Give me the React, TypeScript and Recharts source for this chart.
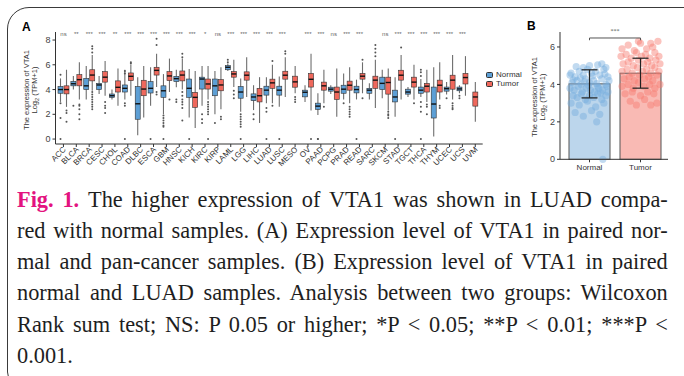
import React from "react";
import { Bar, Cell, ComposedChart, ErrorBar, Legend, ReferenceLine, XAxis, YAxis } from "recharts";

const FONT = '"Liberation Sans", Arial, sans-serif';
const SERIF = '"Liberation Serif", "Times New Roman", serif';
const BLUE = "#5d9fd5";
const RED = "#ef685c";

// Panel A: pan-cancer boxplots
const cancers = [
    "ACC", "BLCA", "BRCA", "CESC", "CHOL", "COAD", "DLBC", "ESCA", "GBM", "HNSC", "KICH",
    "KIRC", "KIRP", "LAML", "LGG", "LIHC", "LUAD", "LUSC", "MESO", "OV", "PAAD", "PCPG",
    "PRAD", "READ", "SARC", "SKCM", "STAD", "TGCT", "THCA", "THYM", "UCEC", "UCS", "UVM",
];

const significance = [
    "ns", "**", "***", "***", "**", "***", "***", "***", "***", "***", "***",
    "*", "ns", "***", "***", "***", "***", "***", "", "***", "***", "ns",
    "***", "***", "", "ns", "***", "***", "***", "***", "***", "***", "",
];

// [lower whisker, q1, median, q3, upper whisker]
const normalBox: (number[] | null)[] = [
    [3.0, 3.7, 4.0, 4.25, 4.9],
    [4.0, 4.3, 4.47, 4.66, 5.1],
    [3.2, 4.0, 4.3, 4.9, 5.9],
    [3.65, 4.0, 4.37, 4.5, 5.1],
    [3.2, 3.37, 3.5, 3.64, 4.0],
    [3.2, 3.8, 4.1, 4.37, 5.6],
    [0.3, 1.6, 2.85, 4.24, 5.0],
    [2.7, 3.72, 4.1, 4.64, 5.8],
    [2.0, 3.37, 3.9, 4.3, 5.25],
    [4.18, 4.64, 4.88, 5.07, 5.6],
    [1.75, 3.37, 4.1, 4.85, 5.66],
    [2.7, 4.04, 4.85, 5.0, 5.9],
    [2.0, 3.5, 4.3, 4.85, 5.5],
    [5.5, 5.6, 5.8, 5.93, 6.1],
    [2.2, 3.3, 3.8, 4.25, 4.9],
    [2.34, 3.1, 3.4, 3.65, 4.35],
    [2.9, 3.55, 3.95, 4.27, 5.0],
    [2.6, 3.55, 3.95, 4.27, 5.05],
    null,
    [3.0, 3.41, 3.78, 3.95, 4.35],
    [1.95, 2.4, 2.66, 2.9, 3.7],
    [3.65, 3.87, 4.03, 4.19, 4.35],
    [3.2, 3.7, 4.03, 4.35, 5.3],
    [3.2, 3.73, 4.0, 4.27, 4.8],
    [3.2, 3.7, 3.95, 4.1, 4.5],
    [3.3, 4.0, 4.5, 5.0, 5.6],
    [1.8, 3.0, 3.4, 3.95, 5.0],
    [3.4, 3.63, 3.8, 4.03, 4.2],
    [3.4, 3.7, 3.95, 4.2, 4.85],
    [0.2, 1.7, 2.83, 4.2, 5.8],
    [3.6, 3.87, 4.07, 4.2, 4.6],
    [3.7, 3.9, 4.05, 4.2, 4.35],
    null,
];

const tumorBox: number[][] = [
    [2.6, 3.65, 4.0, 4.3, 5.6],
    [3.2, 4.3, 4.8, 5.2, 6.2],
    [3.9, 4.7, 5.17, 5.6, 6.8],
    [3.5, 4.6, 5.0, 5.45, 6.3],
    [2.7, 3.8, 4.18, 4.7, 5.7],
    [3.5, 4.72, 5.07, 5.34, 6.0],
    [1.75, 3.5, 4.04, 4.75, 5.9],
    [4.2, 5.17, 5.55, 5.8, 6.9],
    [3.8, 4.72, 5.1, 5.45, 6.5],
    [4.0, 4.7, 5.17, 5.5, 6.5],
    [0.9, 2.56, 3.37, 3.77, 5.5],
    [3.2, 4.04, 4.45, 4.85, 5.9],
    [2.4, 3.9, 4.37, 4.8, 5.8],
    [4.2, 5.0, 5.26, 5.45, 6.4],
    [3.4, 4.76, 5.16, 5.43, 6.6],
    [1.3, 3.0, 3.5, 4.1, 5.0],
    [2.9, 4.1, 4.54, 4.84, 6.0],
    [3.4, 4.84, 5.16, 5.48, 6.6],
    [3.7, 4.19, 4.62, 5.08, 5.9],
    [2.3, 4.2, 4.83, 5.3, 6.9],
    [2.9, 3.95, 4.3, 4.6, 5.6],
    [1.8, 3.2, 3.8, 4.2, 5.7],
    [2.9, 3.95, 4.35, 4.68, 5.8],
    [3.7, 4.84, 5.08, 5.3, 6.2],
    [2.5, 4.1, 4.76, 5.08, 6.4],
    [2.3, 3.63, 4.57, 5.0, 5.7],
    [3.2, 4.76, 5.16, 5.56, 6.8],
    [3.2, 4.2, 4.6, 5.0, 6.0],
    [3.0, 3.8, 4.27, 4.5, 5.6],
    [3.2, 3.8, 4.35, 4.76, 6.2],
    [3.2, 4.03, 4.76, 5.16, 6.8],
    [3.5, 4.45, 4.97, 5.3, 6.7],
    [1.4, 2.66, 3.4, 3.8, 4.6],
];

const normalOutliers: number[][] = [
    [5.2, 2.9, 1.7, 0], [2.7], [], [], [], [5.5, 5.3, 2.9, 2.7, 0], [], [0],
    [1.9, 1.7, 1.5, 1.3, 1.1, 1.0, 0], [3.2, 3.0], [0], [2.0, 1.6, 1.3], [1.3],
    [6.2, 6.4], [2.0, 1.8, 1.6, 1.4, 1.2, 1.0, 0], [2.0, 1.6], [2.5, 2.2, 0], [0],
    [], [], [0, 0], [], [2.9], [0], [], [], [0], [], [5.1, 5.4, 5.6, 3.0, 2.6, 2.2, 0],
    [], [3.3], [3.5, 3.3], [],
];

const tumorOutliers: number[][] = [
    [2.3, 2.1, 1.4], [2.8, 2.7, 2.4, 2.0, 1.6], [7.0, 7.3, 7.5, 3.8, 3.6, 3.4, 3.2, 3.0, 2.8, 2.6, 2.4],
    [3.0, 2.7, 2.5, 2.1], [], [6.1, 6.2], [], [8.1, 7.6, 3.8, 3.6], [3.2],
    [6.6, 6.9, 3.8, 3.5, 3.2, 3.0, 2.8, 2.5, 1.5], [], [3.0, 2.8, 2.6, 2.4, 2.2, 2.0, 0],
    [1.8, 1.6], [3.9, 3.6, 3.3], [], [], [6.3, 2.7], [6.9, 7.1], [3.4, 3.2, 3.0], [0],
    [2.6], [], [2.6, 2.4, 2.2, 2.0, 1.8], [6.4, 3.3], [6.7, 7.0, 7.3, 7.6], [2.2, 2.0, 1.9, 1.7],
    [7.4], [2.9], [2.8, 2.6, 2.0], [2.7, 2.5], [2.9, 2.7, 2.5, 2.4], [], [],
];

// Panel B: LUAD normal vs tumor
const groups = ["Normal", "Tumor"];
const groupMeans = [4.03, 4.6];
const groupSd = [0.75, 0.8];
// [horizontal jitter (-1..1 of half bar width), value]
const normalPoints = [
    [-0.9, 4.6], [-0.7, 4.4], [-0.5, 4.7], [-0.3, 4.5], [-0.1, 4.8], [0.1, 4.6], [0.3, 4.7], [0.5, 4.5], [0.7, 4.8], [0.9, 4.4],
    [-0.85, 4.1], [-0.6, 4.2], [-0.4, 4.0], [-0.2, 4.3], [0.0, 4.1], [0.2, 4.2], [0.4, 3.9], [0.6, 4.3], [0.8, 4.0], [0.95, 4.2],
    [-0.95, 3.8], [-0.75, 3.7], [-0.55, 3.9], [-0.35, 3.6], [-0.15, 3.8], [0.05, 3.7], [0.25, 3.6], [0.45, 3.8], [0.65, 3.7], [0.85, 3.9],
    [-0.8, 3.4], [-0.6, 3.3], [-0.4, 3.5], [-0.2, 3.2], [0.0, 3.4], [0.2, 3.3], [0.4, 3.5], [0.6, 3.2], [0.8, 3.4],
    [-0.9, 3.0], [-0.5, 2.9], [-0.1, 3.1], [0.3, 2.8], [0.7, 3.0],
    [-0.7, 2.5], [0.1, 2.6], [0.5, 2.4], [-0.3, 2.3], [0.35, 2.0], [0.65, 0.0],
    [-0.65, 4.95], [0.0, 5.0], [0.4, 5.05], [-0.3, 4.9], [0.8, 4.9], [0.6, 5.1],
    [-0.45, 4.35], [0.15, 4.45], [0.75, 4.55], [-0.8, 4.25], [0.35, 4.05], [-0.05, 3.95], [0.55, 3.55], [-0.25, 4.15], [0.9, 3.6], [-0.95, 4.5],
];
const tumorPoints = [
    [-0.9, 5.9], [-0.6, 6.1], [-0.3, 5.8], [0.0, 6.2], [0.3, 5.9], [0.6, 6.0], [0.85, 6.3], [-0.1, 6.3], [0.5, 6.2],
    [-0.95, 5.5], [-0.7, 5.6], [-0.45, 5.4], [-0.2, 5.7], [0.05, 5.5], [0.25, 5.6], [0.45, 5.4], [0.7, 5.7], [0.9, 5.5],
    [-0.85, 5.1], [-0.6, 5.2], [-0.35, 5.0], [-0.1, 5.3], [0.15, 5.1], [0.35, 5.2], [0.55, 5.0], [0.75, 5.3], [0.95, 5.1],
    [-0.9, 4.7], [-0.65, 4.8], [-0.4, 4.6], [-0.15, 4.9], [0.1, 4.7], [0.3, 4.8], [0.5, 4.6], [0.7, 4.9], [0.9, 4.7],
    [-0.8, 4.3], [-0.55, 4.4], [-0.3, 4.2], [-0.05, 4.5], [0.2, 4.3], [0.4, 4.4], [0.6, 4.2], [0.8, 4.5],
    [-0.9, 3.9], [-0.6, 4.0], [-0.35, 3.8], [-0.1, 4.1], [0.15, 3.9], [0.45, 4.0], [0.7, 3.8], [0.95, 4.0],
    [-0.75, 3.5], [-0.4, 3.6], [0.0, 3.4], [0.35, 3.6], [0.65, 3.5],
    [-0.5, 3.1], [0.2, 3.2], [0.8, 3.0], [-0.2, 2.9], [0.5, 2.9],
];

const captionLines = [
    "The higher expression of VTA1 was shown in LUAD compa-",
    "red with normal samples. (A) Expression level of VTA1 in paired nor-",
    "mal and pan-cancer samples. (B) Expression level of VTA1 in paired",
    "normal and LUAD samples. Analysis between two groups: Wilcoxon",
    "Rank sum test; NS: P 0.05 or higher; *P < 0.05; **P < 0.01; ***P <",
    "0.001.",
];

const panelA = cancers.map((name, i) => ({
    name,
    sig: significance[i],
    nBox: normalBox[i],
    tBox: tumorBox[i],
    nOut: normalOutliers[i],
    tOut: tumorOutliers[i],
    nRange: normalBox[i] ? [normalBox[i]![0], normalBox[i]![4]] : null,
    tRange: [tumorBox[i][0], tumorBox[i][4]],
}));

const panelB = groups.map((name, i) => ({
    name,
    mean: groupMeans[i],
    err: [groupSd[i], groupSd[i]],
    points: i === 0 ? normalPoints : tumorPoints,
}));

const BAR_GAP = 1;
const barFills = ["#bcd6ec", "#f9bab4"];
const dotFills = ["#76aedd", "#f7796e"];

function makeBoxShape(kind: "n" | "t") {
    return (props: any) => {
        const { x, y, width, height, payload } = props;
        const stats = kind === "n" ? payload.nBox : payload.tBox;
        if (!stats) return <g />;
        const outs: number[] = kind === "n" ? payload.nOut : payload.tOut;
        const [lo, q1, med, q3, hi] = stats;
        const top = Math.min(y, y + height);
        const k = Math.abs(height) / (hi - lo);
        const py = (v: number) => top + (hi - v) * k;
        let bx = x;
        if (kind === "t" && !payload.nBox) bx = x - (width + BAR_GAP) / 2;
        const cx = bx + width / 2;
        const center = x - BAR_GAP / 2;
        return (
            <g>
                <line x1={cx} x2={cx} y1={py(hi)} y2={py(lo)} stroke="#6e6e6e" strokeWidth={1.1} />
                <rect x={bx} y={py(q3)} width={width} height={py(q1) - py(q3)} fill={kind === "n" ? BLUE : RED} stroke="#333" strokeWidth={0.6} />
                <line x1={bx} x2={bx + width} y1={py(med)} y2={py(med)} stroke="#111" strokeWidth={1.4} />
                {outs.map((v, i) => (
                    <circle key={i} cx={cx} cy={py(v)} r={1} fill="#555" />
                ))}
                {kind === "t" && payload.sig && (
                    <text x={center} y={py(8.45)} textAnchor="middle" dominantBaseline="central" fontSize={6} fill="#666" fontFamily={FONT}>
                        {payload.sig}
                    </text>
                )}
            </g>
        );
    };
}

const AngledTick = (props: any) => {
    const { x, y, payload } = props;
    return (
        <g transform={`translate(${x + 3},${y + 1})`}>
            <text textAnchor="end" transform="rotate(-45)" fontSize={8} fill="#333" fontFamily={FONT}>
                {payload.value}
            </text>
        </g>
    );
};

function yTitle(cx: number, cy: number) {
    return () => (
        <g fontFamily={FONT} fontSize={7.5} fill="#333">
            <text x={cx} y={cy} textAnchor="middle" transform={`rotate(-90, ${cx}, ${cy})`}>
                The expression of VTA1
            </text>
            <text x={cx + 8} y={cy} textAnchor="middle" transform={`rotate(-90, ${cx + 8}, ${cy})`}>
                Log<tspan fontSize={5.5} dy={2}>2</tspan>
                <tspan dy={-2}> (TPM+1)</tspan>
            </text>
        </g>
    );
}

const renderLegend = (props: any) => (
    <div style={{ fontFamily: FONT, fontSize: 8, color: "#333", lineHeight: "9px" }}>
        {props.payload.map((p: any) => (
            <div key={p.value} style={{ display: "flex", alignItems: "center", gap: 3 }}>
                <span style={{ width: 5, height: 4, background: p.color, border: "1px solid #333", borderRadius: 1.5, display: "inline-block" }} />
                {p.value}
            </div>
        ))}
    </div>
);

const JitterBar = (props: any) => {
    const { x, y, width, height, payload, index } = props;
    const k = height / payload.mean;
    const base = y + height;
    return (
        <g>
            <rect x={x} y={y} width={width} height={height} fill={barFills[index]} stroke="#555" strokeWidth={1} />
            {payload.points.map(([j, v]: number[], i: number) => (
                <circle key={i} cx={x + width / 2 + (j * width) / 2} cy={base - v * k} r={3.6} fill={dotFills[index]} fillOpacity={0.45} />
            ))}
        </g>
    );
};

export default function App() {
    return (
        <div style={{ position: "absolute", left: 0, top: 0, width: 684, height: 376, overflow: "hidden", background: "#fff" }}>
            <div style={{ position: "absolute", left: 7, top: 7, width: 700, height: 375, border: "1.5px solid #3a3a3a", borderRadius: "22px 12px 12px 12px" }} />
            <div style={{ position: "absolute", left: 22, top: 20, fontFamily: FONT, fontWeight: "bold", fontSize: 12 }}>A</div>
            <div style={{ position: "absolute", left: 527, top: 19, fontFamily: FONT, fontWeight: "bold", fontSize: 12 }}>B</div>

            <div style={{ position: "absolute", left: 0, top: 0 }}>
                <ComposedChart width={500} height={190} data={panelA} margin={{ top: 32, right: 17.3, bottom: 6, left: 30.5 }} barSize={5} barGap={BAR_GAP}>
                    <XAxis
                        dataKey="name"
                        height={40}
                        interval={0}
                        padding={{ left: 1.5, right: 1 }}
                        tick={<AngledTick />}
                        tickSize={3}
                        tickMargin={2}
                        stroke="#333"
                    />
                    <YAxis
                        width={25}
                        domain={[-0.4, 8.65]}
                        ticks={[0, 2, 4, 6, 8]}
                        tickSize={3}
                        tick={{ fontSize: 9, fill: "#444", fontFamily: FONT }}
                        stroke="#333"
                        label={{ content: yTitle(29, 90) }}
                    />
                    <Legend
                        layout="vertical"
                        align="center"
                        verticalAlign="middle"
                        content={renderLegend}
                        wrapperStyle={{ left: 486, top: 70, width: 40, height: 20 }}
                    />
                    <Bar dataKey="nRange" name="Normal" fill={BLUE} shape={makeBoxShape("n")} isAnimationActive={false} />
                    <Bar dataKey="tRange" name="Tumor" fill={RED} shape={makeBoxShape("t")} isAnimationActive={false} />
                </ComposedChart>
            </div>

            <div style={{ position: "absolute", left: 500, top: 0 }}>
                <ComposedChart width={180} height={180} data={panelB} margin={{ top: 32, right: 12, bottom: 4.7, left: 38 }} barSize={41}>
                    <XAxis dataKey="name" height={16} padding={{ left: 4, right: 2 }} tickSize={3} tick={{ fontSize: 8, fill: "#333", fontFamily: FONT }} stroke="#333" />
                    <YAxis
                        width={22}
                        domain={[0, 6.8]}
                        ticks={[0, 2, 4, 6]}
                        tickSize={3}
                        tick={{ fontSize: 9, fill: "#444", fontFamily: FONT }}
                        stroke="#333"
                        label={{ content: yTitle(37, 97) }}
                    />
                    <Bar dataKey="mean" shape={<JitterBar />} isAnimationActive={false}>
                        {panelB.map((d, i) => (
                            <Cell key={d.name} fill={barFills[i]} />
                        ))}
                        <ErrorBar dataKey="err" width={8} stroke="#222" strokeWidth={1.2} direction="y" />
                    </Bar>
                    <ReferenceLine
                        segment={[{ x: "Normal", y: 6.48 }, { x: "Tumor", y: 6.48 }]}
                        stroke="#555"
                        label={{ value: "***", position: "top", fontSize: 6, fill: "#555" }}
                    />
                    <ReferenceLine segment={[{ x: "Normal", y: 6.48 }, { x: "Normal", y: 6.36 }]} stroke="#555" />
                    <ReferenceLine segment={[{ x: "Tumor", y: 6.48 }, { x: "Tumor", y: 6.36 }]} stroke="#555" />
                </ComposedChart>
            </div>

            <div
                style={{
                    position: "absolute",
                    left: 17,
                    top: 183.5,
                    width: 685,
                    transform: "scaleX(0.95)",
                    transformOrigin: "left top",
                    fontFamily: SERIF,
                    fontSize: 23.5,
                    lineHeight: "31.3px",
                    color: "#1e1e1e",
                }}
            >
                {captionLines.map((line, i) => (
                    <div key={i} style={{ textAlign: "justify", textAlignLast: i < captionLines.length - 1 ? "justify" : "left", whiteSpace: "nowrap" }}>
                        {i === 0 && <b style={{ color: "#e3137f" }}>Fig. 1. </b>}
                        {line}
                    </div>
                ))}
            </div>
        </div>
    );
}
